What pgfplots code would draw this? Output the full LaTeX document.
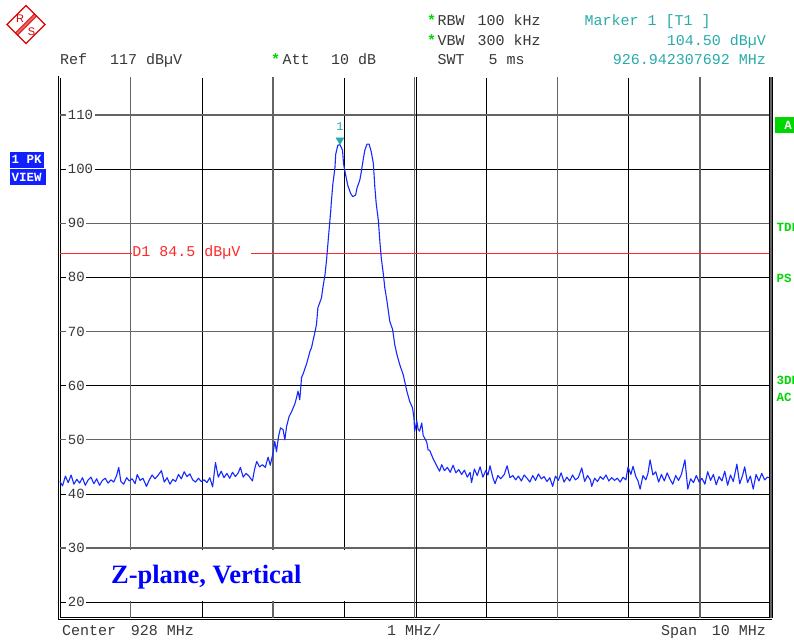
\documentclass[border=0pt]{standalone}
\usepackage{fontspec}
\setmainfont{Liberation Serif}
\newfontfamily\mono{Liberation Mono}
\newfontfamily\sansf{Liberation Sans}
\usepackage{pgfplots}
\pgfplotsset{compat=1.18}
\usetikzlibrary{calc}
\definecolor{trace}{RGB}{20,40,255}
\definecolor{hdrgray}{RGB}{55,55,55}
\definecolor{mkteal}{RGB}{40,170,170}
\definecolor{rsgreen}{RGB}{0,215,0}
\definecolor{boxblue}{RGB}{16,32,255}
\definecolor{d1red}{RGB}{255,40,40}
\definecolor{gridgray}{RGB}{100,100,100}
\newcommand\hdr{\mono\fontsize{15}{15}\selectfont}
\newcommand\tl{\mono\fontsize{14}{14}\selectfont}
\newcommand\sm{\mono\bfseries\fontsize{12.5}{12.5}\selectfont}
\begin{document}
\begin{tikzpicture}[x=1pt,y=1pt]
\useasboundingbox (0,0) rectangle (794,639);
% R&S logo
\draw[red!85!black, line width=1.3pt] (26,633.5) -- (45,614.5) -- (26,595.5) -- (7,614.5) -- cycle;
\foreach \d in {-1.8,-0.9,0,0.9,1.8}{
  \draw[red!85!black, line width=0.5pt] ($(35.5,624)+(\d*0.7071,-\d*0.7071)$) -- ($(16.5,605)+(\d*0.7071,-\d*0.7071)$);
}
\node[red!85!black, font=\sansf\fontsize{11}{11}\selectfont, inner sep=0] at (20,620.5) {R};
\node[red!85!black, font=\sansf\fontsize{11}{11}\selectfont, inner sep=0] at (31.5,607.5) {S};
% header texts
\node[anchor=base west, inner sep=0, text=hdrgray, font=\hdr] at (60,574) {Ref};
\node[anchor=base west, inner sep=0, text=hdrgray, font=\hdr] at (110,574) {117 dBµV};
\node[anchor=base west, inner sep=0, text=rsgreen, font=\hdr\bfseries] at (271,574) {*};
\node[anchor=base west, inner sep=0, text=hdrgray, font=\hdr] at (282.5,574) {Att};
\node[anchor=base west, inner sep=0, text=hdrgray, font=\hdr] at (331,574) {10 dB};
\node[anchor=base west, inner sep=0, text=rsgreen, font=\hdr\bfseries] at (427,613) {*};
\node[anchor=base west, inner sep=0, text=hdrgray, font=\hdr] at (437.3,613) {RBW};
\node[anchor=base west, inner sep=0, text=hdrgray, font=\hdr] at (477.3,613) {100 kHz};
\node[anchor=base west, inner sep=0, text=rsgreen, font=\hdr\bfseries] at (427,593.3) {*};
\node[anchor=base west, inner sep=0, text=hdrgray, font=\hdr] at (437.3,593.3) {VBW};
\node[anchor=base west, inner sep=0, text=hdrgray, font=\hdr] at (477.3,593.3) {300 kHz};
\node[anchor=base west, inner sep=0, text=hdrgray, font=\hdr] at (437.3,574) {SWT};
\node[anchor=base west, inner sep=0, text=hdrgray, font=\hdr] at (488.3,574) {5 ms};
\node[anchor=base west, inner sep=0, text=mkteal, font=\hdr] at (584.3,613) {Marker 1 [T1 ]};
\node[anchor=base east, inner sep=0, text=mkteal, font=\hdr] at (766,593.3) {104.50 dBµV};
\node[anchor=base east, inner sep=0, text=mkteal, font=\hdr] at (766,574) {926.942307692 MHz};
% footer
\node[anchor=base west, inner sep=0, text=hdrgray, font=\hdr] at (62,3.5) {Center};
\node[anchor=base west, inner sep=0, text=hdrgray, font=\hdr] at (130.6,3.5) {928 MHz};
\node[anchor=base west, inner sep=0, text=hdrgray, font=\hdr] at (387,3.5) {1 MHz/};
\node[anchor=base west, inner sep=0, text=hdrgray, font=\hdr] at (661,3.5) {Span};
\node[anchor=base east, inner sep=0, text=hdrgray, font=\hdr] at (766,3.5) {10 MHz};
% left boxes
\fill[boxblue] (10,471.3) rectangle (44,487.3);
\fill[boxblue] (10,454) rectangle (46,469.7);
\node[anchor=west, inner sep=0, text=white, font=\sm] at (11.5,479.3) {1 PK};
\node[anchor=west, inner sep=0, text=white, font=\sm] at (11.5,461.9) {VIEW};
% right labels (cut by the picture's edge, as in the original screen)
\fill[rsgreen] (775,506.3) rectangle (794,521.7);
\node[text=white, font=\sm, inner sep=0] at (788,514) {A};
\node[anchor=west, inner sep=0, text=rsgreen, font=\sm] at (776.5,411.3) {TDF};
\node[anchor=west, inner sep=0, text=rsgreen, font=\sm] at (776.5,360.7) {PS};
\node[anchor=west, inner sep=0, text=rsgreen, font=\sm] at (776.5,259) {3DB};
\node[anchor=west, inner sep=0, text=rsgreen, font=\sm] at (776.5,241.3) {AC};
\begin{axis}[
  at={(59.7pt,20.5pt)}, anchor=south west, scale only axis,
  width=711.3pt, height=541.5pt,
  xmin=923, xmax=933, ymin=17, ymax=117,
  xtick={925,927,929,931}, xticklabels={},
  extra x ticks={924,926,930,932}, extra x tick labels={},
  ytick={20,40,60,80,100},
  extra y ticks={30,50,70,90,110},
  major tick length=0pt,
  xmajorgrids, ymajorgrids,
  grid style={black, line width=0.9pt},
  extra x tick style={grid style={gridgray, line width=1.3pt}},
  extra y tick style={grid style={gridgray, line width=1.3pt}},
  /pgf/number format/assume math mode=true,
  yticklabel style={anchor=west, xshift=6.5pt, fill=white, inner sep=1.5pt, text=hdrgray, font=\tl},
  axis line style={black, line width=0.7pt, double=white, double distance=1.2pt},
  clip=true,
]
% title backdrop
\fill[white] (axis cs:923.45,20.3) rectangle (axis cs:927.97,29.7);
% center double line
\draw[gridgray, line width=0.9pt] (axis cs:927.983,17) -- (axis cs:927.983,117);
\draw[black, line width=0.9pt] (axis cs:928.017,17) -- (axis cs:928.017,117);
% display line D1
\addplot[d1red, line width=0.8pt] coordinates {(923,84.5) (924.013,84.5)};
\addplot[d1red, line width=0.8pt] coordinates {(925.686,84.5) (933,84.5)};
\node[anchor=west, inner sep=0, text=d1red, font=\hdr] at (axis cs:924.02,84.5) {D1 84.5 dBµV};
% trace
\addplot[trace, line width=1.1pt, line join=round] table {
923.00 42.4
923.04 41.5
923.08 43.3
923.12 42.1
923.16 43.5
923.20 41.8
923.24 42.7
923.28 42.0
923.32 43.0
923.36 41.6
923.40 42.6
923.44 43.1
923.48 41.9
923.52 42.8
923.56 41.6
923.60 42.5
923.64 42.9
923.68 42.0
923.72 42.6
923.76 42.2
923.80 43.4
923.83 44.9
923.86 42.3
923.90 41.8
923.94 43.0
923.98 42.4
924.02 42.8
924.06 41.9
924.09 43.6
924.13 42.5
924.17 42.9
924.22 41.4
924.26 42.6
924.30 43.5
924.34 42.8
924.38 43.4
924.43 44.3
924.47 42.2
924.51 43.0
924.55 41.8
924.59 42.7
924.63 42.3
924.67 43.6
924.71 42.8
924.75 44.1
924.79 43.2
924.83 43.7
924.87 42.6
924.91 42.2
924.95 42.9
924.99 42.3
925.03 42.6
925.07 42.1
925.11 43.0
925.15 41.3
925.19 45.8
925.23 43.1
925.27 44.2
925.31 43.0
925.35 43.8
925.39 42.9
925.43 44.0
925.47 43.2
925.51 43.9
925.54 44.9
925.58 43.1
925.62 43.8
925.66 43.3
925.71 42.4
925.74 44.6
925.77 46.0
925.81 45.0
925.85 45.4
925.89 44.9
925.93 46.8
925.96 45.3
926.00 47.6
926.024 49.7
926.048 47.8
926.075 50.5
926.104 52.2
926.14 51.9
926.165 50.0
926.19 52.5
926.225 54.3
926.26 55.2
926.305 56.6
926.33 57.8
926.35 59.0
926.375 57.4
926.40 61.5
926.42 62.1
926.47 64.0
926.52 66.4
926.54 67.0
926.59 70.0
926.61 71.3
926.63 74.4
926.68 76.2
926.70 78.1
926.73 80.5
926.75 83.0
926.77 86.1
926.79 89.2
926.81 92.2
926.82 94.1
926.84 97.2
926.87 100.3
926.88 102.7
926.91 104.4
926.94 104.5
926.976 103.5
926.99 101.0
927.02 98.9
927.05 97.0
927.09 95.5
927.12 94.9
927.16 95.2
927.18 96.5
927.22 98.0
927.24 99.5
927.27 102.0
927.29 103.5
927.32 104.6
927.35 104.6
927.38 103.2
927.41 101.0
927.43 96.7
927.45 93.6
927.48 90.5
927.50 86.8
927.52 83.7
927.55 80.6
927.57 78.1
927.60 75.7
927.64 71.9
927.68 70.4
927.71 67.6
927.74 65.8
927.78 63.9
927.83 62.0
927.85 60.8
927.88 59.0
927.92 57.1
927.96 55.9
927.98 54.1
927.99 51.6
928.02 53.5
928.04 51.9
928.06 51.6
928.09 53.1
928.11 50.8
928.16 49.6
928.18 48.1
928.20 48.1
928.25 46.5
928.30 45.2
928.34 44.2
928.37 45.4
928.41 44.3
928.45 44.9
928.49 44.0
928.53 45.3
928.57 43.9
928.61 44.5
928.65 43.6
928.69 44.4
928.73 43.1
928.77 44.0
928.79 42.1
928.83 44.6
928.87 43.4
928.91 45.0
928.95 43.1
928.99 44.3
929.02 43.5
929.05 45.2
929.09 43.0
929.12 41.9
929.16 43.4
929.20 42.8
929.25 43.6
929.29 45.2
929.33 43.0
929.37 43.4
929.41 42.6
929.45 43.3
929.49 42.4
929.53 43.5
929.57 42.9
929.61 42.2
929.65 43.4
929.69 42.5
929.73 43.7
929.77 42.8
929.81 43.2
929.85 42.3
929.89 43.0
929.93 41.4
929.97 43.3
930.01 42.5
930.05 43.9
930.09 42.2
930.13 43.1
930.17 42.4
930.21 43.5
930.25 42.6
930.29 43.0
930.34 44.8
930.38 42.3
930.42 43.4
930.46 42.6
930.48 41.4
930.52 42.9
930.56 42.3
930.60 43.2
930.64 42.7
930.68 43.5
930.72 42.4
930.76 43.0
930.80 42.5
930.84 42.9
930.88 42.2
930.92 43.1
930.96 42.6
930.99 45.0
931.03 43.6
931.06 45.1
931.10 43.2
931.13 42.4
931.16 40.9
931.20 43.4
931.24 42.6
931.27 43.8
931.30 46.3
931.34 43.5
931.38 44.1
931.42 42.2
931.46 43.6
931.50 42.4
931.54 43.9
931.58 42.7
931.62 41.8
931.66 43.4
931.70 42.5
931.74 43.6
931.79 46.3
931.83 40.9
931.87 42.8
931.91 42.1
931.95 43.4
931.99 42.2
932.03 42.9
932.07 41.8
932.11 44.1
932.15 42.5
932.19 43.6
932.23 41.7
932.27 43.2
932.31 42.4
932.35 44.2
932.39 41.6
932.43 43.5
932.47 42.3
932.52 45.5
932.56 41.9
932.60 43.4
932.63 45.0
932.67 42.1
932.71 43.3
932.75 40.9
932.79 43.6
932.83 42.4
932.87 43.8
932.91 42.6
932.95 43.1
933.00 42.9
};
% marker
\addplot[only marks, mark=triangle*, mark size=4.5pt, mark options={rotate=180, yshift=-4.5pt, fill=mkteal, draw=mkteal}] coordinates {(926.94,104.5)};
\node[text=mkteal, font=\mono\fontsize{12}{12}\selectfont, inner sep=0] at (axis cs:926.94,107.9) {1};
% title
\node[anchor=base west, inner sep=0, text=blue, font=\rmfamily\bfseries\fontsize{26.5}{26.5}\selectfont] at (axis cs:923.72,23.5) {Z-plane, Vertical};
\end{axis}
\draw[black, line width=3.4pt] (771,20.5) -- (771,562);
\draw[gridgray, line width=1.6pt] (771,20.5) -- (771,562);
\end{tikzpicture}
\end{document}
